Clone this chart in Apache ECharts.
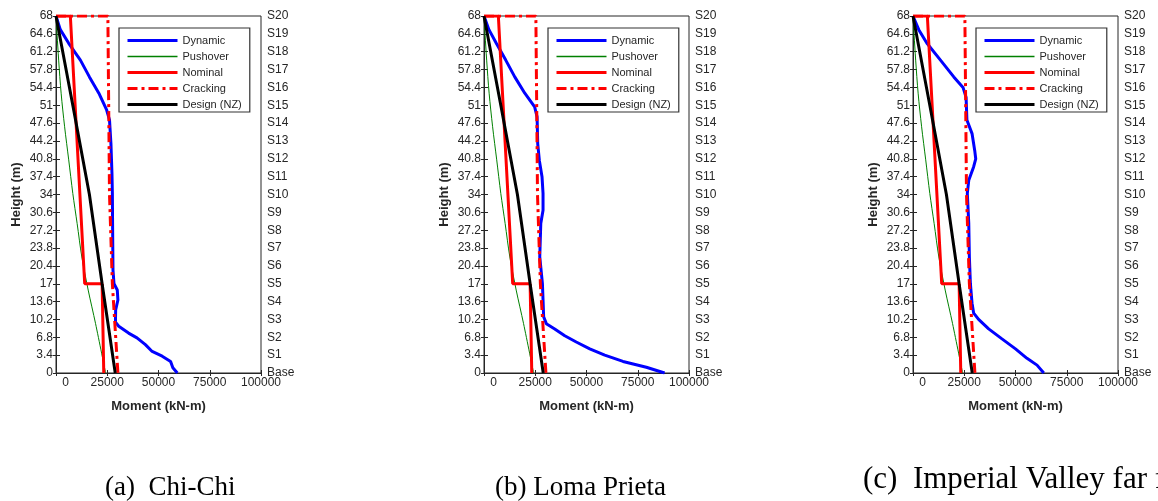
<!DOCTYPE html>
<html>
<head>
<meta charset="utf-8">
<script src="https://cdn.jsdelivr.net/npm/echarts@6/dist/echarts.min.js"></script>
<style>
  html, body { margin: 0; padding: 0; background: #ffffff; }
  #moment-chart { width: 1158px; height: 501px; }
</style>
</head>
<body>
<div id="moment-chart"></div>
<script>
// right hand axis labels (one per storey, 3.4 m each)
const storyLabels = ['Base', 'S1', 'S2', 'S3', 'S4', 'S5', 'S6', 'S7', 'S8', 'S9', 'S10',
  'S11', 'S12', 'S13', 'S14', 'S15', 'S16', 'S17', 'S18', 'S19', 'S20'];
const captions = ['(a)  Chi-Chi', '(b) Loma Prieta', '(c)  Imperial Valley far field'];
const seriesNames = ['Dynamic', 'Pushover', 'Nominal', 'Cracking', 'Design (NZ)'];

// dynamic envelopes (height m / moment kN-m)
const dynA_H = [68, 65.4, 62.8, 59.6, 56.4, 53.3, 50.1, 48.2, 43.7, 38, 34.2, 28.5, 19.6, 17, 15.8, 13.9, 12, 9.7, 8.9, 7.6, 6.7, 5.4, 4.1, 3.2, 2.2, 1, 0];
const dynA_M = [0, 2100, 6200, 11900, 16300, 20900, 24700, 26100, 26800, 27300, 27500, 27600, 27800, 28300, 29900, 30200, 29100, 29000, 30600, 35400, 39500, 43600, 46900, 51800, 55900, 57000, 59200];

const dynB_H = [68, 65.4, 62.8, 59.6, 56.4, 53.3, 50.7, 48.8, 43.7, 40.5, 37.4, 34.2, 31, 28.5, 22.1, 17, 13.9, 10.7, 9.4, 8.4, 7.1, 5.9, 4.6, 3.4, 2.2, 1.1, 0];
const dynB_M = [0, 2400, 6000, 10600, 15000, 19900, 24700, 25900, 26200, 27000, 28300, 28800, 28800, 27700, 27200, 28500, 28800, 29100, 30400, 34500, 39400, 45000, 51600, 58900, 67800, 79200, 88100];

const dynC_H = [68, 65.4, 62.8, 59.6, 56.4, 54.4, 52.5, 48.2, 45.6, 42.4, 40.8, 39.3, 36.7, 34.2, 28.5, 22.1, 17, 13.3, 11.4, 10.2, 8.4, 6.5, 4.6, 2.8, 1.5, 0];
const dynC_M = [0, 2800, 6800, 13400, 19900, 24400, 25900, 26300, 28800, 30100, 30600, 29600, 27200, 26500, 27200, 27500, 28000, 28800, 29600, 32000, 36900, 43400, 50000, 55600, 60500, 63800];

// same in all three panels
const pushH = [68, 64.6, 59.6, 53.3, 46.9, 40.6, 34.2, 28.5, 22.1, 15.8, 9.4, 0];
const pushM = [0, 500, 1300, 2500, 4200, 6200, 8200, 10300, 12600, 15700, 19300, 24200];

const nomH = [68, 68, 17, 17, 0];
const nomM = [0, 7000, 14000, 22500, 23300];

const crackH = [68, 68, 34, 17, 0];
const crackM = [0, 25300, 26100, 27500, 30200];

const designH = [68, 51, 34, 17, 0];
const designM = [0, 8200, 16300, 22500, 28900];

const pairs = (m, h) => m.map((v, i) => [v, h[i]]);

const chartDom = document.getElementById('moment-chart');
const myChart = echarts.init(chartDom);

const axisColor = '#262626';
const gridLefts = [56, 484, 913];
const legendLefts = [119, 548, 976];
const captionPos = [[100, 469, 27], [490, 469, 27], [858, 459, 31]];
const dynamics = [pairs(dynA_M, dynA_H), pairs(dynB_M, dynB_H), pairs(dynC_M, dynC_H)];

const grids = [];
const xAxes = [];
const yAxes = [];
const legends = [];
const titles = [];
const series = [];

for (let i = 0; i < 3; i++) {
  grids.push({
    left: gridLefts[i], top: 16, width: 205, height: 357,
    show: true, borderColor: axisColor, borderWidth: 1,
    backgroundColor: '#ffffff', containLabel: false, outerBoundsMode: 'none'
  });
  xAxes.push({
    type: 'value', gridIndex: i, position: 'bottom',
    min: 0, max: 100000, interval: 25000,
    name: 'Moment (kN-m)', nameLocation: 'middle', nameGap: 27,
    nameTextStyle: { fontFamily: 'Liberation Sans', fontSize: 13, fontWeight: 'bold', color: axisColor },
    axisLine: { show: true, lineStyle: { color: axisColor } },
    axisTick: { show: true, inside: true, length: 3, lineStyle: { color: axisColor } },
    axisLabel: {
      fontFamily: 'Liberation Sans', fontSize: 12, color: axisColor, margin: 4,
      formatter: v => (v === 0 ? '{z|0}' : String(v)),
      rich: { z: { fontFamily: 'Liberation Sans', fontSize: 12, color: axisColor, padding: [0, 0, 0, 19] } }
    },
    splitLine: { show: false }
  });
  yAxes.push({
    type: 'value', gridIndex: i, position: 'left',
    min: 0, max: 68, interval: 3.4,
    name: 'Height (m)', nameLocation: 'middle', nameGap: 33,
    nameTextStyle: { fontFamily: 'Liberation Sans', fontSize: 13, fontWeight: 'bold', color: axisColor },
    axisLine: { show: true, lineStyle: { color: axisColor } },
    axisTick: { show: true, inside: false, length: 3, lineStyle: { color: axisColor } },
    axisLabel: { fontFamily: 'Liberation Sans', fontSize: 12, color: axisColor, margin: 3 },
    splitLine: { show: false }
  });
  legends.push({
    data: [
      { name: 'Dynamic' },
      { name: 'Pushover', lineStyle: { color: '#008000', width: 1.5 } },
      { name: 'Nominal' },
      { name: 'Cracking' },
      { name: 'Design (NZ)' }
    ],
    orient: 'vertical', left: legendLefts[i], top: 28,
    padding: [7, 8, 2, 7], itemGap: 5, itemWidth: 50, itemHeight: 12,
    borderColor: '#333333', borderWidth: 1.2, backgroundColor: '#ffffff',
    lineStyle: { width: 'inherit' },
    textStyle: { fontFamily: 'Liberation Sans', fontSize: 11, color: axisColor },
    selectedMode: false
  });
  titles.push({
    text: captions[i], left: captionPos[i][0], top: captionPos[i][1],
    textStyle: { fontFamily: 'Liberation Serif', fontSize: captionPos[i][2], fontWeight: 'normal', color: '#000000' }
  });
}
// top and right edges with ticks
for (let i = 0; i < 3; i++) {
  xAxes.push({
    type: 'value', gridIndex: i, position: 'top',
    min: 0, max: 100000, interval: 25000,
    axisLine: { show: true, lineStyle: { color: axisColor } },
    axisTick: { show: true, inside: true, length: 3, lineStyle: { color: axisColor } },
    axisLabel: { show: false },
    splitLine: { show: false }
  });
  yAxes.push({
    type: 'value', gridIndex: i, position: 'right',
    min: 0, max: 68, interval: 3.4,
    axisLine: { show: true, lineStyle: { color: axisColor } },
    axisTick: { show: true, inside: false, length: 4, lineStyle: { color: axisColor } },
    axisLabel: {
      fontFamily: 'Liberation Sans', fontSize: 12, color: axisColor, margin: 6,
      formatter: v => storyLabels[Math.round(v / 3.4)]
    },
    splitLine: { show: false }
  });
}

for (let i = 0; i < 3; i++) {
  const base = { type: 'line', xAxisIndex: i, yAxisIndex: i, symbol: 'none', animation: false };
  // itemStyle opacity 0 keeps the legend icon a plain line
  series.push(
    { ...base, name: 'Dynamic', data: dynamics[i], lineStyle: { color: '#0000ff', width: 3 }, itemStyle: { color: '#0000ff', opacity: 0 } },
    { ...base, name: 'Pushover', data: pairs(pushM, pushH), smooth: 0.3, lineStyle: { color: '#008000', width: 1 }, itemStyle: { color: '#008000', opacity: 0 } },
    { ...base, name: 'Nominal', data: pairs(nomM, nomH), lineStyle: { color: '#ff0000', width: 3 }, itemStyle: { color: '#ff0000', opacity: 0 } },
    { ...base, name: 'Cracking', data: pairs(crackM, crackH), lineStyle: { color: '#ff0000', width: 3, type: [10, 4, 3, 4] }, itemStyle: { color: '#ff0000', opacity: 0 } },
    { ...base, name: 'Design (NZ)', data: pairs(designM, designH), lineStyle: { color: '#000000', width: 3 }, itemStyle: { color: '#000000', opacity: 0 } }
  );
}

const option = {
  backgroundColor: '#ffffff',
  animation: false,
  title: titles,
  legend: legends,
  grid: grids,
  xAxis: xAxes,
  yAxis: yAxes,
  series: series
};

option && myChart.setOption(option);
</script>
</body>
</html>
